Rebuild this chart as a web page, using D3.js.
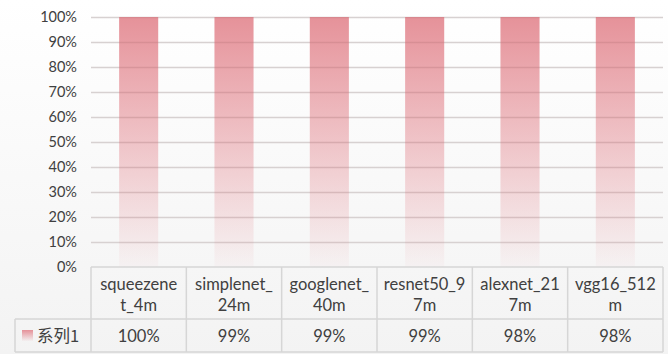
<!DOCTYPE html>
<html>
<head>
<meta charset="utf-8">
<script src="https://cdn.jsdelivr.net/npm/d3@7"></script>
<style>
  html, body { margin: 0; padding: 0; background: #fff; }
  svg { display: block; }
</style>
</head>
<body>
<svg id="chart" width="668" height="354"></svg>
<script>
// Models and their share (one series, shown as a 100% stacked column chart)
const categories = ["squeezenet_4m", "simplenet_24m", "googlenet_40m", "resnet50_97m", "alexnet_217m", "vgg16_512m"];
// category names as they wrap inside the data-table cells
const categoryLines = [
  ["squeezene", "t_4m"],
  ["simplenet_", "24m"],
  ["googlenet_", "40m"],
  ["resnet50_9", "7m"],
  ["alexnet_21", "7m"],
  ["vgg16_512", "m"]
];
const seriesName = "系列1";
const seriesValues = [1.00, 0.99, 0.99, 0.99, 0.98, 0.98];
const tableLabels = ["100%", "99%", "99%", "99%", "98%", "98%"];
const yTicks = [0, 0.1, 0.2, 0.3, 0.4, 0.5, 0.6, 0.7, 0.8, 0.9, 1.0];

const W = 668, H = 354;
const plot = { left: 91, right: 663, top: 17, bottom: 267 };
const table = { left: 15, row1: 319, row2: 352 };
const FONT = "Lato, 'Noto Sans', sans-serif";
const TABLE_FS = 16.5;
const TEXT = "#404040";
const GRID = "#e2e2e2";

const svg = d3.select("#chart");
const defs = svg.append("defs");

// soft background wash
const bg = defs.append("linearGradient").attr("id", "bg").attr("x1", 0).attr("y1", 0).attr("x2", 0).attr("y2", 1);
bg.append("stop").attr("offset", "0%").attr("stop-color", "#ffffff");
bg.append("stop").attr("offset", "100%").attr("stop-color", "#f3f3f3");

// column fill: rose at the top fading out toward the base
const barGrad = defs.append("linearGradient").attr("id", "barFill").attr("x1", 0).attr("y1", 0).attr("x2", 0).attr("y2", 1);
barGrad.append("stop").attr("offset", "0%").attr("stop-color", "#e48c94").attr("stop-opacity", 0.95);
barGrad.append("stop").attr("offset", "100%").attr("stop-color", "#e48c94").attr("stop-opacity", 0.04);

svg.append("rect").attr("width", W).attr("height", H).attr("fill", "url(#bg)");

// 100% stacking of the single series
const rows = categories.map((c, i) => ({ cat: c, [seriesName]: seriesValues[i] }));
const stacked = d3.stack().keys([seriesName]).offset(d3.stackOffsetExpand)(rows);

const x = d3.scaleBand().domain(categories).range([plot.left, plot.right]).padding(0);
const y = d3.scaleLinear().domain([0, 1]).range([plot.bottom, plot.top]);
const barW = x.bandwidth() * 0.41;

const gridData = yTicks.filter(t => t > 0);

// gridlines
svg.append("g")
  .selectAll("line")
  .data(gridData)
  .join("line")
  .attr("x1", plot.left).attr("x2", plot.right)
  .attr("y1", d => Math.round(y(d)) + 0.5).attr("y2", d => Math.round(y(d)) + 0.5)
  .attr("stroke", GRID).attr("stroke-width", 1.5);

// columns
svg.append("g")
  .selectAll("g")
  .data(stacked)
  .join("g")
  .attr("fill", "url(#barFill)")
  .selectAll("rect")
  .data(d => d)
  .join("rect")
  .attr("x", d => x(d.data.cat) + (x.bandwidth() - barW) / 2)
  .attr("y", d => y(d[1]))
  .attr("width", barW)
  .attr("height", d => y(d[0]) - y(d[1]));

// gridlines show faintly through the columns
svg.append("g")
  .selectAll("line")
  .data(gridData)
  .join("line")
  .attr("x1", plot.left).attr("x2", plot.right)
  .attr("y1", d => Math.round(y(d)) + 0.5).attr("y2", d => Math.round(y(d)) + 0.5)
  .attr("stroke", "rgba(120,60,60,0.10)").attr("stroke-width", 1.5);

// y axis labels
const yAxis = d3.axisLeft(y).tickValues(yTicks).tickFormat(d3.format(".0%")).tickSize(0).tickPadding(0);
const yg = svg.append("g").attr("transform", `translate(77,0)`).call(yAxis);
yg.select(".domain").remove();
yg.selectAll("text").attr("font-family", FONT).attr("font-size", 14.5).attr("fill", TEXT).attr("dy", "0.34em");

// data table grid
const tg = svg.append("g").attr("stroke", "#d6d6d6").attr("stroke-width", 1.5).attr("fill", "none");
tg.append("line").attr("x1", plot.left).attr("x2", plot.right).attr("y1", plot.bottom).attr("y2", plot.bottom);
tg.append("line").attr("x1", table.left).attr("x2", plot.right).attr("y1", table.row1).attr("y2", table.row1);
tg.append("line").attr("x1", table.left).attr("x2", plot.right).attr("y1", table.row2).attr("y2", table.row2);
const bounds = categories.map(c => x(c)).concat([plot.right]);
tg.selectAll("line.v").data(bounds).join("line").attr("class", "v")
  .attr("x1", d => d).attr("x2", d => d).attr("y1", plot.bottom).attr("y2", table.row2);
tg.append("line").attr("x1", table.left).attr("x2", table.left).attr("y1", table.row1).attr("y2", table.row2);

// category labels
const catG = svg.append("g").attr("font-family", FONT).attr("font-size", TABLE_FS).attr("fill", TEXT).attr("text-anchor", "middle");
categories.forEach((c, ci) => {
  const cx = x(c) + x.bandwidth() / 2;
  const t = catG.append("text").attr("x", cx);
  categoryLines[ci].forEach((ln, i) => t.append("tspan").attr("x", cx).attr("y", 290 + i * 21).text(ln));
});

// value row
svg.append("g").attr("font-family", FONT).attr("font-size", TABLE_FS).attr("fill", TEXT).attr("text-anchor", "middle")
  .selectAll("text").data(categories).join("text")
  .attr("x", c => x(c) + x.bandwidth() / 2).attr("y", 342)
  .text((c, i) => tableLabels[i]);

// legend key and series name
svg.append("rect").attr("x", 22).attr("y", 330).attr("width", 11).attr("height", 11).attr("fill", "url(#barFill)");
svg.append("text").attr("x", 37).attr("y", 342)
  .attr("font-family", "'Noto Sans CJK SC', " + FONT).attr("font-size", TABLE_FS).attr("fill", TEXT)
  .text(seriesName);
</script>
</body>
</html>
